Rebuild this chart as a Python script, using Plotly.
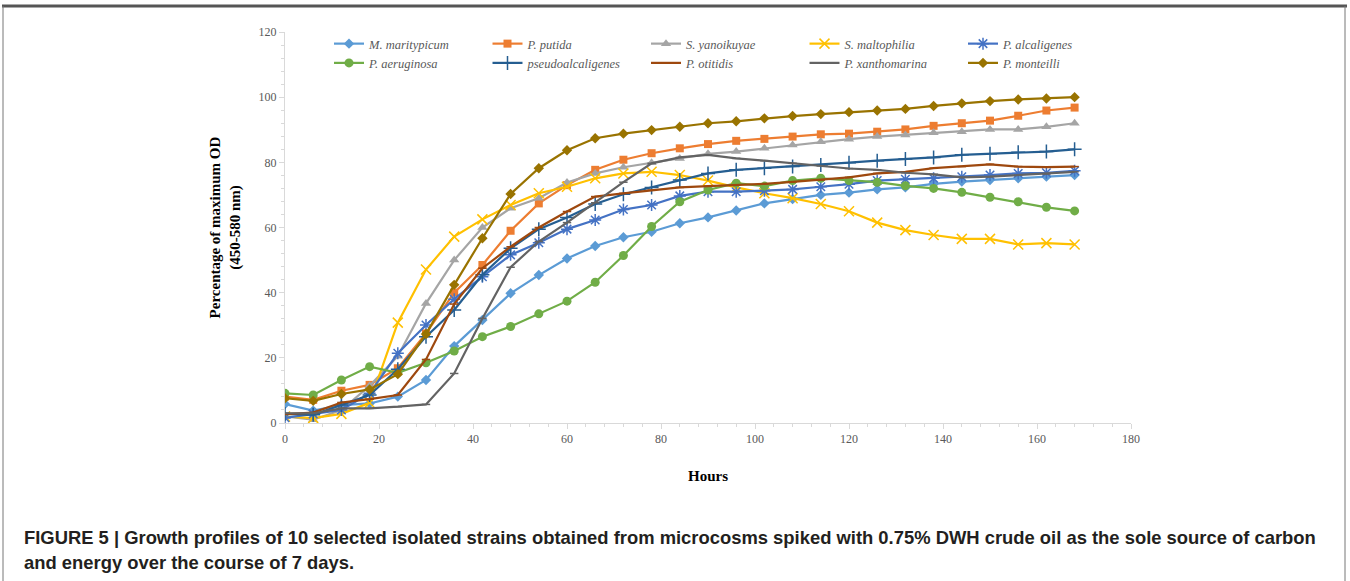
import plotly.graph_objects as go

hours = [0, 6, 12, 18, 24, 30, 36, 42, 48, 54, 60, 66, 72, 78, 84, 90, 96, 102,
         108, 114, 120, 126, 132, 138, 144, 150, 156, 162, 168]

series_names = ["M. maritypicum", "P. putida", "S. yanoikuyae", "S. maltophilia",
                "P. alcaligenes", "P. aeruginosa", "pseudoalcaligenes", "P. otitidis",
                "P. xanthomarina", "P. monteilli"]

maritypicum = [5.8, 3.8, 5.5, 6.0, 8.1, 13.2, 23.6, 31.6, 39.8, 45.4, 50.5, 54.3, 57.0, 58.7,
               61.3, 63.1, 65.2, 67.4, 68.7, 70.0, 70.7, 71.7, 72.3, 73.4, 74.1, 74.6, 75.1, 75.6, 76.1]
putida = [8.1, 7.1, 9.9, 11.7, 16.8, 27.5, 40.0, 48.5, 59.0, 67.4, 73.0, 77.7, 80.8, 82.8,
          84.3, 85.6, 86.6, 87.2, 87.9, 88.6, 88.8, 89.4, 90.1, 91.2, 92.0, 92.8, 94.3, 95.9, 96.8]
yanoikuyae = [2.0, 1.0, 4.0, 11.4, 20.5, 36.7, 50.0, 60.0, 65.9, 69.0, 73.8, 76.6, 78.5, 79.9,
              81.2, 82.6, 83.3, 84.3, 85.3, 86.3, 87.1, 87.9, 88.4, 89.1, 89.4, 90.1, 90.1, 90.9, 92.0]
maltophilia = [2.0, 1.5, 2.8, 6.2, 30.8, 47.1, 57.2, 62.5, 66.9, 70.5, 72.5, 75.1, 76.6, 77.1,
               76.1, 74.4, 72.3, 70.5, 69.0, 67.2, 65.0, 61.5, 59.2, 57.7, 56.5, 56.5, 54.8, 55.2, 54.8]
alcaligenes = [1.6, 2.8, 4.0, 9.1, 21.4, 30.1, 38.0, 44.9, 51.6, 55.3, 59.5, 62.3, 65.5, 66.9,
               69.7, 71.0, 71.0, 71.3, 71.7, 72.5, 73.3, 74.4, 74.8, 75.1, 75.6, 76.1, 76.6, 76.8, 77.4]
aeruginosa = [9.1, 8.6, 13.2, 17.3, 15.4, 18.5, 22.1, 26.5, 29.6, 33.5, 37.4, 43.2, 51.4, 60.3,
              67.9, 71.5, 73.6, 72.7, 74.4, 75.1, 74.4, 73.9, 72.8, 72.0, 70.8, 69.3, 67.9, 66.2, 65.1]
pseudoalcaligenes = [2.8, 2.5, 5.5, 8.6, 16.5, 26.5, 34.7, 45.5, 53.6, 59.5, 63.1, 67.2, 70.2, 72.3,
                     74.6, 76.6, 77.7, 78.2, 78.7, 79.2, 79.9, 80.5, 81.0, 81.5, 82.3, 82.6, 83.1, 83.3, 84.0]
otitidis = [2.7, 3.2, 6.3, 7.3, 8.6, 19.5, 36.5, 47.5, 54.1, 60.0, 64.9, 69.5, 70.5, 71.5,
            72.3, 72.7, 73.0, 73.4, 74.0, 74.6, 75.4, 76.6, 77.1, 78.2, 78.7, 79.4, 78.7, 78.5, 78.7]
xanthomarina = [3.0, 3.0, 4.5, 4.5, 5.0, 5.7, 15.2, 32.1, 47.8, 55.7, 61.5, 67.6, 73.9, 79.7,
                81.5, 82.3, 81.2, 80.5, 79.7, 78.9, 78.1, 77.7, 76.8, 76.3, 75.4, 75.6, 76.1, 76.4, 77.1]
monteilli = [7.6, 6.8, 8.9, 10.3, 15.0, 27.3, 42.4, 56.7, 70.3, 78.2, 83.7, 87.4, 88.8, 89.9,
             90.9, 92.0, 92.6, 93.5, 94.2, 94.8, 95.4, 95.9, 96.4, 97.3, 98.1, 98.8, 99.3, 99.6, 100.0]

x_ticks = [0, 20, 40, 60, 80, 100, 120, 140, 160, 180]
y_ticks = [0, 20, 40, 60, 80, 100, 120]

values = [maritypicum, putida, yanoikuyae, maltophilia, alcaligenes, aeruginosa,
          pseudoalcaligenes, otitidis, xanthomarina, monteilli]
colors = ["#5B9BD5", "#ED7D31", "#A5A5A5", "#FFC000", "#4472C4", "#70AD47",
          "#255E91", "#9E480E", "#636363", "#997300"]
symbols = ["diamond", "square", "triangle-up", "x-thin", "asterisk", "circle",
           "cross-thin", "line-ew", "line-ew", "diamond"]
sizes = [8, 8, 9, 10, 10, 9, 10, 6, 6, 8]

fig = go.Figure()
for name, vals, col, sym, sz in zip(series_names, values, colors, symbols, sizes):
    thin = sym in ("x-thin", "asterisk", "cross-thin", "line-ew")
    fig.add_trace(go.Scatter(
        x=hours, y=vals, name=name, mode="lines+markers",
        line=dict(color=col, width=2.2),
        marker=dict(symbol=sym, size=sz, color=col,
                    line=dict(color=col, width=1.5 if thin else 0)),
    ))

W, H = 1350, 581
L, R, T, B = 285, 1131, 32, 423


def px(x):
    return (x - L) / (R - L)


def py(y):
    return (B - y) / (B - T)


axis_font = dict(family="Liberation Serif", size=12, color="#595959")
title_font = dict(family="Liberation Serif", size=15, color="#000")
fig.update_layout(
    width=W, height=H,
    margin=dict(l=L, r=W - R, t=T, b=H - B),
    paper_bgcolor="white", plot_bgcolor="white",
    showlegend=True,
    legend=dict(orientation="h", x=px(329), y=py(29), xanchor="left", yanchor="top",
                entrywidth=113.5, entrywidthmode="pixels",
                font=dict(family="Liberation Serif", size=12.5, color="#595959", style="italic"),
                bgcolor="rgba(0,0,0,0)", tracegroupgap=0, itemwidth=30),
    xaxis=dict(range=[0, 180], tickvals=x_ticks, showgrid=False, zeroline=False,
               showline=True, linecolor="#D9D9D9", linewidth=1,
               ticks="outside", ticklen=5, tickcolor="#D9D9D9",
               minor=dict(dtick=4, ticks="outside", ticklen=3, tickcolor="#D9D9D9", showgrid=False),
               tickfont=axis_font,
               title=dict(text="<b>Hours</b>", font=title_font, standoff=25)),
    yaxis=dict(range=[0, 120], tickvals=y_ticks, showgrid=False, zeroline=False,
               showline=True, linecolor="#D9D9D9", linewidth=1,
               ticks="outside", ticklen=5, tickcolor="#D9D9D9",
               minor=dict(dtick=4, ticks="outside", ticklen=3, tickcolor="#D9D9D9", showgrid=False),
               tickfont=axis_font,
               title=dict(text="<b>Percentage of maximum OD<br>(450-580 nm)</b>",
                          font=title_font, standoff=14)),
)

cap_font = dict(family="Liberation Sans", size=18.4, color="#231F20")
fig.add_annotation(xref="paper", yref="paper", x=px(22), y=py(537), xanchor="left", yanchor="middle",
                   showarrow=False, font=cap_font,
                   text="<b>FIGURE 5 | Growth profiles of 10 selected isolated strains obtained from microcosms spiked with 0.75% DWH crude oil as the sole source of carbon</b>")
fig.add_annotation(xref="paper", yref="paper", x=px(22), y=py(562), xanchor="left", yanchor="middle",
                   showarrow=False, font=cap_font,
                   text="<b>and energy over the course of 7 days.</b>")

# frame lines
fig.add_shape(type="line", xref="paper", yref="paper", x0=px(2), x1=px(1347), y0=py(6), y1=py(6),
              line=dict(color="#555555", width=3))
fig.add_shape(type="line", xref="paper", yref="paper", x0=px(3), x1=px(3), y0=py(6), y1=py(581),
              line=dict(color="#777777", width=1))
fig.add_shape(type="line", xref="paper", yref="paper", x0=px(1345), x1=px(1345), y0=py(6), y1=py(581),
              line=dict(color="#777777", width=1))

fig.write_html("out.html")
